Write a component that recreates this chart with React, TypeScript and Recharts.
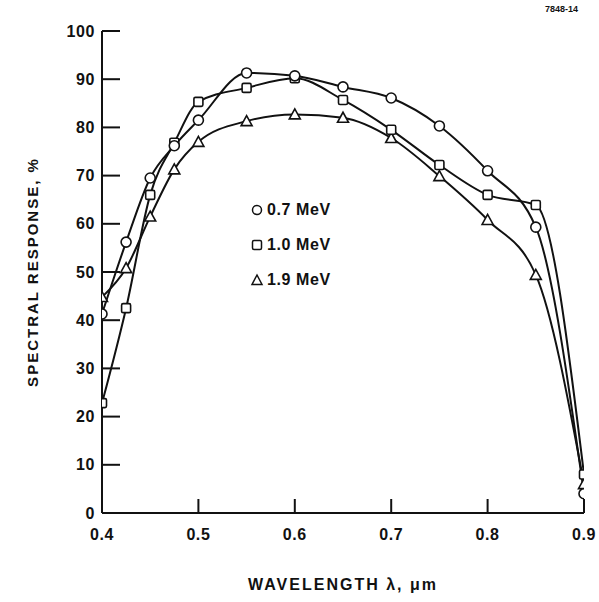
import { Legend, Line, LineChart, XAxis, YAxis, Label } from 'recharts';

// Wavelength (µm) sampled for each curve.
const wavelengths = [0.4, 0.425, 0.45, 0.475, 0.5, 0.55, 0.6, 0.65, 0.7, 0.75, 0.8, 0.85, 0.9];
// Spectral response (%) per proton energy.
const resp07 = [41.3, 56.2, 69.5, 76.2, 81.5, 91.3, 90.7, 88.4, 86.1, 80.3, 71, 59.3, 4];
const resp10 = [22.8, 42.5, 66, 76.8, 85.3, 88.2, 90.2, 85.7, 79.5, 72.2, 66, 63.9, 8];
const resp19 = [44.8, 50.8, 61.5, 71.3, 77, 81.3, 82.7, 82, 77.8, 69.9, 60.8, 49.4, 6];

const seriesNames = ['0.7 MeV', '1.0 MeV', '1.9 MeV'];
const xTicks = [0.4, 0.5, 0.6, 0.7, 0.8, 0.9];
const yTicks = [0, 10, 20, 30, 40, 50, 60, 70, 80, 90, 100];

const FONT = '"Liberation Sans", Arial, sans-serif';
const INK = '#111';

const data = wavelengths.map((w, i) => ({ w, a: resp07[i], b: resp10[i], c: resp19[i] }));

function CircleDot({ cx, cy }: any) {
  if (cx == null || cy == null) return null;
  return <circle cx={cx} cy={cy} r={5} fill="#fff" stroke={INK} strokeWidth={1.6} />;
}

function SquareDot({ cx, cy }: any) {
  if (cx == null || cy == null) return null;
  return <rect x={cx - 4.5} y={cy - 4.5} width={9} height={9} rx={1.5} fill="#fff" stroke={INK} strokeWidth={1.6} />;
}

function TriangleDot({ cx, cy }: any) {
  if (cx == null || cy == null) return null;
  return (
    <polygon
      points={`${cx},${cy - 5.5} ${cx - 5.5},${cy + 4.5} ${cx + 5.5},${cy + 4.5}`}
      fill="#fff"
      stroke={INK}
      strokeWidth={1.6}
    />
  );
}

const symbols = ['circle', 'square', 'triangle'];

function LegendSymbol({ kind }: { kind: string }) {
  return (
    <svg width={14} height={14} style={{ marginRight: 3 }}>
      {kind === 'circle' && <circle cx={7} cy={7} r={4.5} fill="#fff" stroke={INK} strokeWidth={1.5} />}
      {kind === 'square' && <rect x={2.5} y={2.5} width={9} height={9} rx={1.5} fill="#fff" stroke={INK} strokeWidth={1.5} />}
      {kind === 'triangle' && <polygon points="7,2 2,11.5 12,11.5" fill="#fff" stroke={INK} strokeWidth={1.5} />}
    </svg>
  );
}

function EnergyLegend() {
  return (
    <div style={{ fontFamily: FONT, fontWeight: 700, fontSize: 16, letterSpacing: 0.6, color: INK }}>
      {seriesNames.map((name, i) => (
        <div key={name} style={{ display: 'flex', alignItems: 'center', height: 35 }}>
          <LegendSymbol kind={symbols[i]} />
          <span>{name}</span>
        </div>
      ))}
    </div>
  );
}

function YTitle({ viewBox }: any) {
  const cx = viewBox.x + 32;
  const cy = viewBox.y + viewBox.height / 2;
  return (
    <text
      x={cx}
      y={cy}
      transform={`rotate(-90 ${cx} ${cy})`}
      textAnchor="middle"
      dominantBaseline="central"
      fontFamily={FONT}
      fontWeight={700}
      fontSize={15}
      letterSpacing={2}
      fill={INK}
    >
      SPECTRAL RESPONSE, %
    </text>
  );
}

function XTitle({ viewBox }: any) {
  const cx = viewBox.x + viewBox.width / 2;
  return (
    <text
      x={cx}
      y={viewBox.y + 77}
      textAnchor="middle"
      fontFamily={FONT}
      fontWeight={700}
      fontSize={16}
      letterSpacing={2}
      fill={INK}
    >
      WAVELENGTH λ, μm
    </text>
  );
}

const tickStyle = { fill: INK, fontSize: 16, fontWeight: 700, fontFamily: FONT, letterSpacing: 0.6 };
const axisStroke = { stroke: INK, strokeWidth: 2 };

export default function App() {
  return (
    <div style={{ position: 'absolute', left: 0, top: 0, width: 599, height: 602, background: '#fff' }}>
      <LineChart width={599} height={602} data={data} margin={{ top: 31, right: 15, left: 0, bottom: 0 }}>
        <XAxis
          dataKey="w"
          type="number"
          domain={[0.4, 0.9]}
          ticks={xTicks}
          tickFormatter={(v: number) => v.toFixed(1)}
          tick={tickStyle}
          tickSize={-14}
          tickMargin={30}
          tickLine={axisStroke}
          axisLine={axisStroke}
          height={89}
          allowDataOverflow
        >
          <Label content={<XTitle />} />
        </XAxis>
        <XAxis
          xAxisId="top"
          orientation="top"
          dataKey="w"
          type="number"
          domain={[0.4, 0.9]}
          ticks={xTicks}
          tickFormatter={() => ''}
          tickSize={-16}
          tickLine={axisStroke}
          axisLine={axisStroke}
          height={0}
          allowDataOverflow
        />
        <YAxis
          type="number"
          domain={[0, 100]}
          ticks={yTicks}
          tick={tickStyle}
          tickSize={-18}
          tickMargin={25}
          tickLine={axisStroke}
          axisLine={axisStroke}
          width={102}
          allowDataOverflow
        >
          <Label content={<YTitle />} />
        </YAxis>
        <YAxis
          yAxisId="right"
          orientation="right"
          type="number"
          domain={[0, 100]}
          ticks={yTicks}
          tickFormatter={() => ''}
          tickSize={-15}
          tickLine={axisStroke}
          axisLine={axisStroke}
          width={0}
          allowDataOverflow
        />
        <Line type="monotone" dataKey="c" name={seriesNames[2]} stroke={INK} strokeWidth={2} dot={<TriangleDot />} isAnimationActive={false} />
        <Line type="monotone" dataKey="b" name={seriesNames[1]} stroke={INK} strokeWidth={2} dot={<SquareDot />} isAnimationActive={false} />
        <Line type="monotone" dataKey="a" name={seriesNames[0]} stroke={INK} strokeWidth={2} dot={<CircleDot />} isAnimationActive={false} />
        <Legend
          layout="vertical"
          align="center"
          verticalAlign="middle"
          content={<EnergyLegend />}
          wrapperStyle={{ left: 250, top: 192, width: 'auto' }}
        />
        <text x={578} y={12} textAnchor="end" fontFamily={FONT} fontWeight={700} fontSize={9} fill={INK}>
          7848-14
        </text>
      </LineChart>
    </div>
  );
}
